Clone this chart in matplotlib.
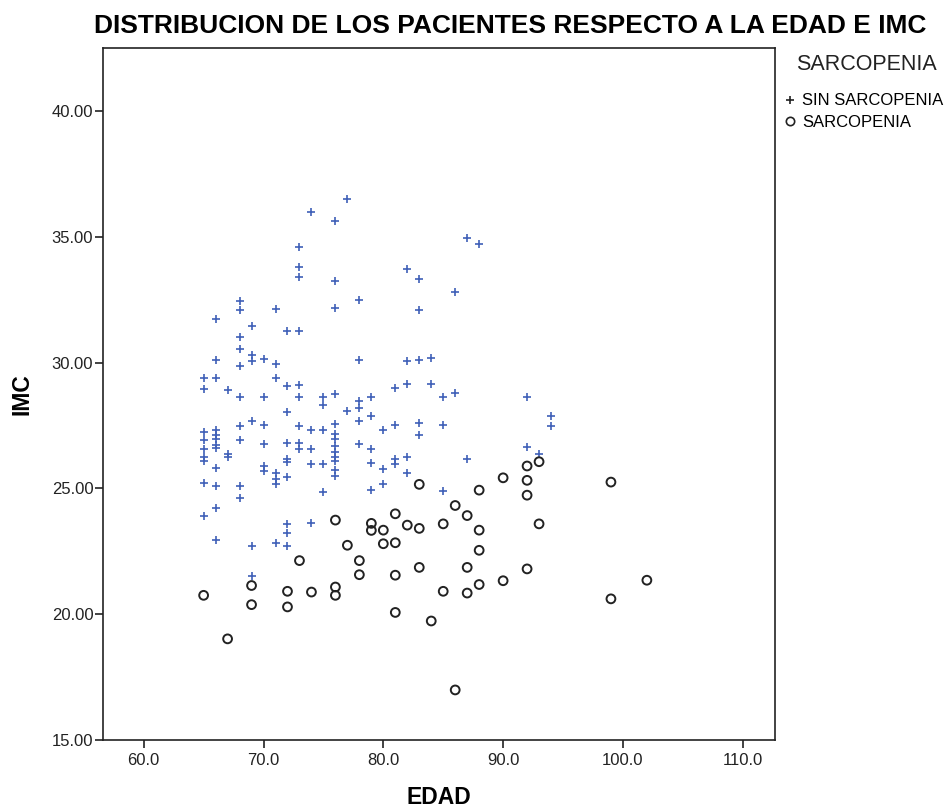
import numpy as np
import matplotlib.pyplot as plt

plt.rcParams['font.family'] = ['Liberation Sans', 'DejaVu Sans']

# SIN SARCOPENIA (edad, imc)
sin_edad = [77, 74, 76, 73, 73, 73, 76, 78, 76, 68, 68, 71, 66, 69, 72, 73, 68, 68,
            69, 69, 70, 71, 66, 68, 78, 65, 66, 71,
            65, 67, 68, 70, 72, 73, 73, 75, 75, 76, 78, 78, 77, 79, 79, 78, 72, 69,
            68, 70, 73, 74, 75, 76, 76, 76, 76, 76, 76, 76, 76, 76,
            65, 65, 65, 65, 65, 65, 65, 66, 66, 66, 66, 66, 66, 66, 66, 66, 67, 67,
            68, 68, 68, 70, 70, 70, 71, 71, 71, 72, 72, 72, 72, 73, 73, 74, 74, 75, 75,
            78, 79, 79, 79, 72, 72, 72, 71, 69, 74, 69,
            81, 82, 84, 85, 86, 92, 80, 81, 83, 83, 85, 94, 94, 80, 81, 81, 82, 82,
            80, 85, 87, 92, 93,
            87, 88, 82, 83, 86, 83, 82, 83, 84]
sin_imc = [36.49, 35.98, 35.62, 34.60, 33.80, 33.39, 33.26, 32.50, 32.17, 32.46, 32.09, 32.13,
           31.72, 31.47, 31.27, 31.27, 31.00, 30.54, 30.31, 30.07, 30.14, 29.94, 30.10, 29.85,
           30.11, 29.38, 29.38, 29.38,
           28.94, 28.92, 28.65, 28.65, 29.08, 29.10, 28.65, 28.65, 28.31, 28.75, 28.48, 28.18,
           28.08, 28.65, 27.86, 27.66, 28.02, 27.68,
           27.46, 27.51, 27.48, 27.32, 27.32, 27.55, 27.15, 26.95, 26.70, 26.45, 26.25, 26.10,
           25.75, 25.50,
           27.24, 26.92, 26.55, 26.26, 26.09, 25.20, 23.92, 27.32, 27.11, 26.95, 26.71, 26.62,
           25.82, 25.09, 24.23, 22.94, 26.35, 26.25,
           26.92, 25.09, 24.63, 26.75, 25.89, 25.69, 25.62, 25.38, 25.16, 26.79, 26.16, 26.05,
           25.46, 26.79, 26.55, 26.58, 25.98, 25.98, 24.85,
           26.75, 26.55, 26.00, 24.93, 23.57, 23.21, 22.70, 22.83, 22.73, 23.61, 21.53,
           28.98, 29.14, 29.14, 28.65, 28.81, 28.65, 27.32, 27.52, 27.61, 27.12, 27.52, 27.86,
           27.46, 25.76, 26.16, 25.96, 26.26, 25.62,
           25.16, 24.89, 26.16, 26.65, 26.35,
           34.95, 34.72, 33.70, 33.33, 32.80, 32.09, 30.05, 30.10, 30.18]

# SARCOPENIA (edad, imc)
sar_edad = [76, 77, 73, 78, 79, 79, 78, 69, 69, 65, 72, 72, 74, 76, 76, 67,
            80, 81, 80, 81, 82, 83, 85, 86, 87, 88, 88, 93, 81, 83, 87, 88, 90, 92,
            85, 87, 81, 84, 86, 99, 102,
            83, 88, 90, 92, 93, 92, 92, 99]
sar_imc = [23.74, 22.74, 22.13, 22.13, 23.61, 23.33, 21.57, 21.14, 20.38, 20.75, 20.91, 20.29,
           20.88, 21.08, 20.75, 19.02,
           23.34, 23.99, 22.80, 22.84, 23.54, 23.41, 23.59, 24.32, 23.92, 23.34, 22.54, 23.59,
           21.55, 21.86, 21.86, 21.18, 21.33, 21.80,
           20.91, 20.84, 20.07, 19.73, 16.99, 20.61, 21.35,
           25.16, 24.93, 25.42, 25.89, 26.06, 25.32, 24.73, 25.25]

xticks = [60, 70, 80, 90, 100, 110]
yticks = [15, 20, 25, 30, 35, 40]

fig = plt.figure(figsize=(9.51, 8.10), dpi=100)
ax = fig.add_axes([0.1083, 0.0864, 0.7067, 0.8543])

ax.scatter(sin_edad, sin_imc, marker='+', s=40, c='#4060b8', linewidths=1.2,
           label='SIN SARCOPENIA', zorder=3)
ax.scatter(sar_edad, sar_imc, marker='o', s=40, facecolors='none', edgecolors='#222222',
           linewidths=1.4, label='SARCOPENIA', zorder=3)

ax.set_xlim(56.6, 112.7)
ax.set_ylim(15, 42.5)
ax.set_xticks(xticks)
ax.set_xticklabels(['%.1f' % v for v in xticks])
ax.set_yticks(yticks)
ax.set_yticklabels(['%.2f' % v for v in yticks])
ax.tick_params(direction='out', length=6, width=1.2, labelsize=12, colors='#222222')
ax.tick_params(axis='y', pad=1)
ax.tick_params(axis='x', pad=3)
for sp in ax.spines.values():
    sp.set_linewidth(1.2)
    sp.set_color('#222222')

ax.set_xlabel('EDAD', fontsize=16.5, fontweight='bold')
ax.set_ylabel('IMC', fontsize=16.5, fontweight='bold')
ax.xaxis.set_label_coords(0.5, -0.066)
ax.yaxis.set_label_coords(-0.103, 0.5)
fig.text(0.536, 0.968, 'DISTRIBUCION DE LOS PACIENTES RESPECTO A LA EDAD E IMC',
         ha='center', va='center', fontsize=19, fontweight='bold')

# legend
leg_handles = [
    plt.Line2D([], [], marker='+', ls='none', color='#222222', markersize=6, markeredgewidth=1.2),
    plt.Line2D([], [], marker='o', ls='none', markerfacecolor='none', markeredgecolor='#222222',
               markersize=6, markeredgewidth=1.2),
]
fig.text(0.911, 0.92, 'SARCOPENIA', ha='center', va='center', fontsize=15.5, color='#222222')
fig.legend(leg_handles, ['SIN SARCOPENIA', 'SARCOPENIA'], loc='upper left',
           bbox_to_anchor=(0.817, 0.895), frameon=False, fontsize=12,
           handlelength=0.6, handletextpad=0.4, labelspacing=0.4, borderpad=0)

fig.savefig('out.png', dpi=100)
